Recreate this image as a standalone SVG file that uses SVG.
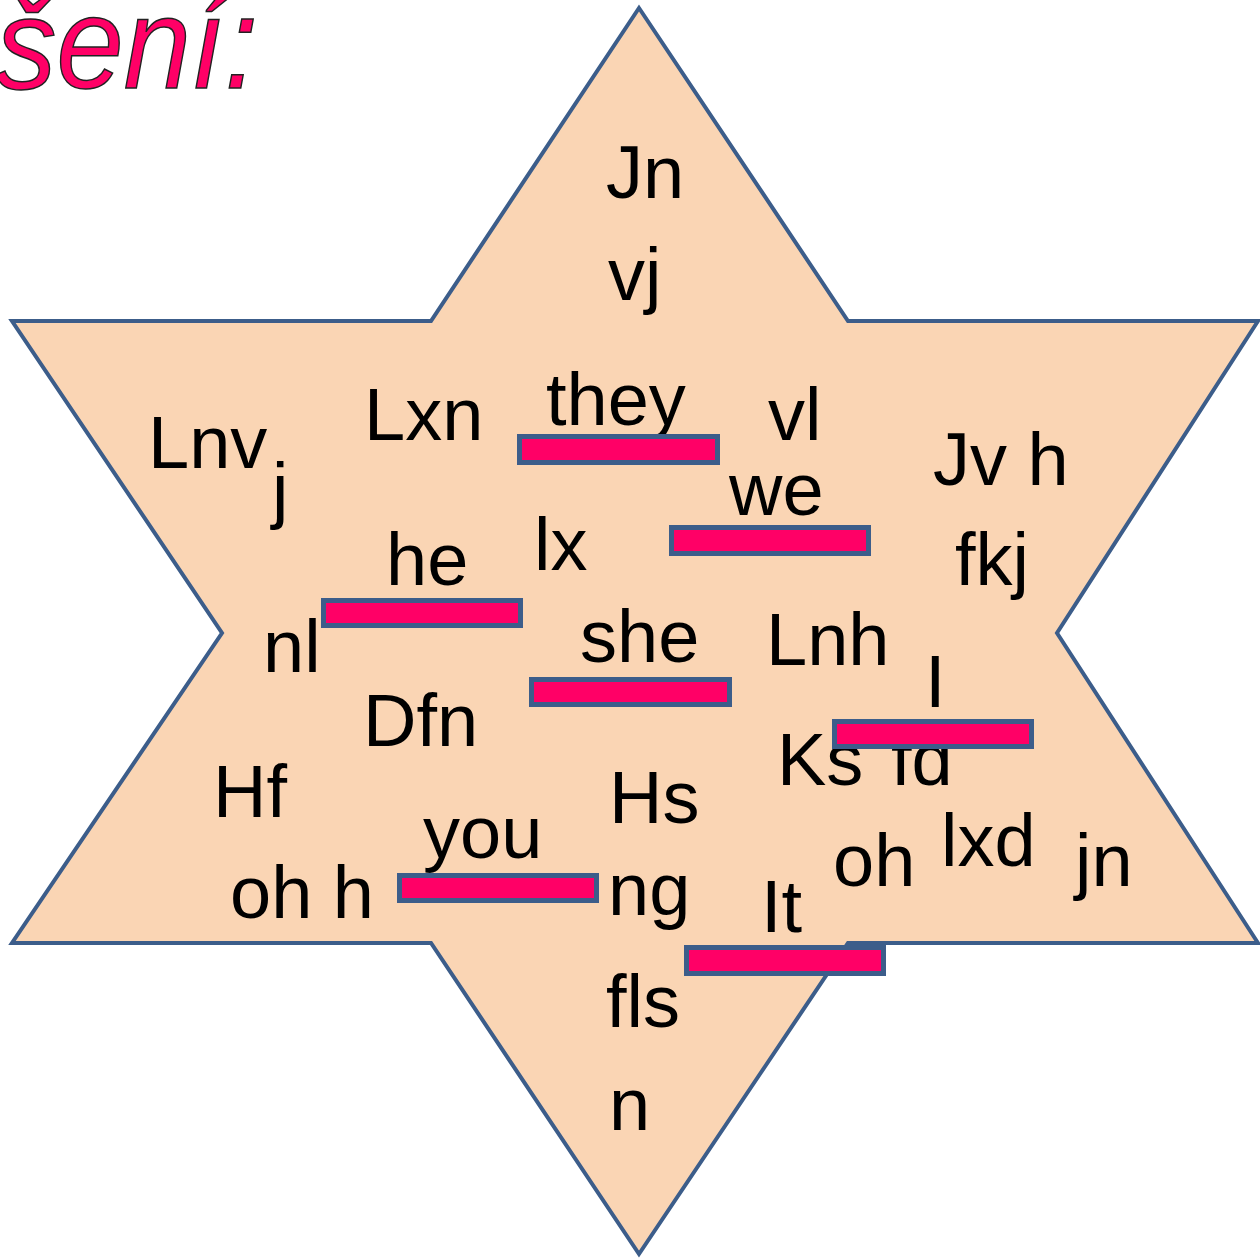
<svg xmlns="http://www.w3.org/2000/svg" width="1260" height="1258" viewBox="0 0 1260 1258">
<style>
.w{font-family:"Liberation Sans",Arial,sans-serif;font-size:74px;fill:#000}
.bar{fill:#FF0066;stroke:#3C5D8A;stroke-width:5}
.title{font-family:"Liberation Sans",Arial,sans-serif;font-style:italic;font-size:130px;fill:#FF0066;stroke:#222;stroke-width:1.5}
</style>
<rect width="1260" height="1258" fill="#fff"/>
<text class="title" x="-4" y="88" textLength="262" lengthAdjust="spacingAndGlyphs">šení:</text>
<g id="star">
<polygon points="639,8 848,321 1258,321 1057,633 1258,943 848,943 639,1254 431,943 12,943 222,633 12,321 431,321" fill="#FAD5B4" stroke="#3C5D8A" stroke-width="4" stroke-linejoin="miter"/>
</g>
<g id="words">
<text class="w" x="606" y="198">Jn</text>
<text class="w" x="608" y="300">vj</text>
<text class="w" x="364" y="440">Lxn</text>
<text class="w" x="546" y="425">they</text>
<text class="w" x="768" y="440">vl</text>
<text class="w" x="148" y="468">Lnv</text>
<text class="w" x="272" y="515">j</text>
<text class="w" x="933" y="485">Jv h</text>
<text class="w" x="729" y="515">we</text>
<text class="w" x="534" y="570">lx</text>
<text class="w" x="955" y="585">fkj</text>
<text class="w" x="386" y="585">he</text>
<text class="w" x="263" y="672">nl</text>
<text class="w" x="580" y="662">she</text>
<text class="w" x="766" y="665">Lnh</text>
<text class="w" x="925" y="707">I</text>
<text class="w" x="363" y="746">Dfn</text>
<text class="w" x="777" y="785">Ks</text>
<text class="w" x="891" y="785">fd</text>
<text class="w" x="213" y="817">Hf</text>
<text class="w" x="609" y="823">Hs</text>
<text class="w" x="423" y="858">you</text>
<text class="w" x="230" y="918">oh h</text>
<text class="w" x="608" y="915">ng</text>
<text class="w" x="761" y="932">It</text>
<text class="w" x="833" y="886">oh</text>
<text class="w" x="941" y="866">lxd</text>
<text class="w" x="1075" y="886">jn</text>
<text class="w" x="606" y="1027">fls</text>
<text class="w" x="609" y="1130">n</text>
</g>
<g id="bars">
<rect class="bar" x="519.5" y="436.5" width="198" height="26"/>
<rect class="bar" x="671.5" y="527.5" width="197" height="26"/>
<rect class="bar" x="323.5" y="600.5" width="197" height="25"/>
<rect class="bar" x="531.5" y="679.5" width="198" height="25"/>
<rect class="bar" x="834.5" y="721.5" width="197" height="25"/>
<rect class="bar" x="399.5" y="875.5" width="197" height="25"/>
<rect class="bar" x="686.5" y="947.5" width="197" height="26"/>
</g>
</svg>
